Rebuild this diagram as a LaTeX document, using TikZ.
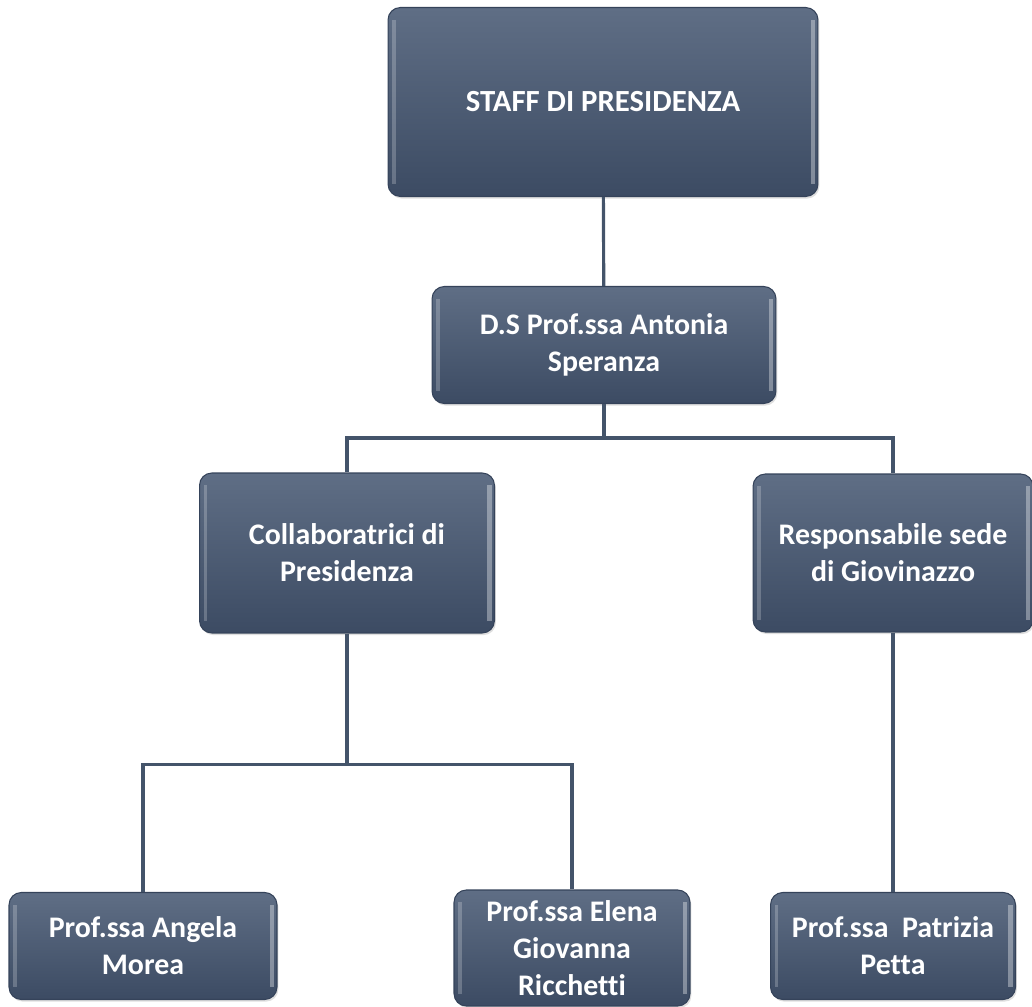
\documentclass[tikz,border=0pt]{standalone}
\usepackage{fontspec}
\setmainfont{Carlito}[Ligatures=NoCommon]
\usetikzlibrary{shadows}
\definecolor{slatetop}{HTML}{5F6E85}
\definecolor{slatebot}{HTML}{3C4B63}
\definecolor{slateline}{HTML}{44546A}
\definecolor{slateedge}{HTML}{35435A}

\begin{document}
\begin{tikzpicture}[x=0.02cm, y=-0.02cm]

\tikzset{
  box/.style={rectangle, rounded corners=7pt, top color=slatetop, bottom color=slatebot,
    draw=slateedge, line width=0.6pt, text=white, align=center,
    font=\bfseries\fontsize{17}{21}\selectfont,
    drop shadow={opacity=0.25, shadow xshift=0.8pt, shadow yshift=-1.2pt},
    path picture={
      \fill[draw=none, sharp corners, white, opacity=0.22] ([xshift=2.5pt,yshift=-7pt]path picture bounding box.north west)
        rectangle ([xshift=4.5pt,yshift=7pt]path picture bounding box.south west);
      \fill[draw=none, sharp corners, white, opacity=0.35] ([xshift=-1.5pt,yshift=-7pt]path picture bounding box.north east)
        rectangle ([xshift=-4pt,yshift=7pt]path picture bounding box.south east);
    }},
  link/.style={draw=slateline, line width=1.8pt}
}

\useasboundingbox (0,0) rectangle (1032,1007);

% boxes
\node[box, minimum width=8.6cm, minimum height=3.78cm, font=\bfseries\fontsize{17.5}{21}\selectfont]
  (staff) at (603,102) {STAFF DI PRESIDENZA};
\node[box, minimum width=6.88cm, minimum height=2.34cm] (ds) at (604,345) {D.S Prof.ssa Antonia\\Speranza};
\node[box, minimum width=5.9cm, minimum height=3.2cm] (collab) at (347,553) {Collaboratrici di\\Presidenza};
\node[box, minimum width=5.6cm, minimum height=3.16cm] (resp) at (893,553) {Responsabile sede\\di Giovinazzo};
\node[box, minimum width=5.36cm, minimum height=2.14cm] (angela) at (143,946) {Prof.ssa Angela\\Morea};
\node[box, minimum width=4.72cm, minimum height=2.32cm] (elena) at (572,948) {Prof.ssa Elena\\Giovanna\\Ricchetti};
\node[box, minimum width=4.9cm, minimum height=2.14cm] (petta) at (893,946) {Prof.ssa \ Patrizia\\Petta};

% connectors
\draw[link] (staff) -- (ds);
\draw[link] (ds.south) -- ++(0,34) -| (collab.north);
\draw[link] (ds.south) -- ++(0,34) -| (resp.north);
\draw[link] (collab.south) -- ++(0,131) -| (angela.north);
\draw[link] (collab.south) -- ++(0,131) -| (elena.north);
\draw[link] (resp) -- (petta);

\end{tikzpicture}
\end{document}
